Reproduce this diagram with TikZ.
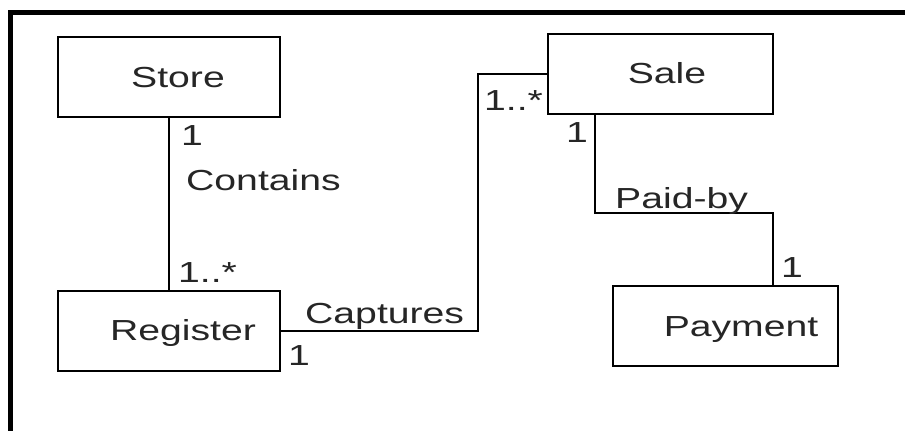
\documentclass[tikz,border=0pt]{standalone}
\usepackage{fontspec}
\setmainfont{Liberation Sans}[FakeStretch=1.35]
\begin{document}
\begin{tikzpicture}[x=1pt,y=-1pt,font=\fontsize{29}{34}\selectfont,text=black!85,
  cls/.style={draw,line width=2pt,minimum width=222pt,minimum height=80pt,inner sep=0pt},
  clsname/.style={anchor=base,inner sep=0pt},
  mult/.style={anchor=base west,inner sep=0pt},
  assoc/.style={line width=2pt}]
\useasboundingbox[fill=white] (0,0) rectangle (905,431);
% frame
\draw[line width=5pt] (10.5,431) -- (10.5,12.5) -- (905,12.5);
% classes
\node[cls] (Store) at (169,76.5) {};
\node[cls] (Register) at (169,331) {};
\node[cls,minimum width=225pt] (Sale) at (660.5,74) {};
\node[cls,minimum width=225pt] (Payment) at (725.5,325.5) {};
\node[clsname] (storeName) at (178,87) {Store};
\node[clsname] (regName) at (183,340) {Register};
\node[clsname] (saleName) at (667,83) {Sale};
\node[clsname] (payName) at (741,336) {Payment};
% associations
\draw[assoc] (Store.south) -- (Register.north);
\coordinate (capBend) at (478,331);
\draw[assoc] (Register.east) -- (capBend) |- (Sale.west);
\coordinate (saleOut) at ([xshift=48pt]Sale.south west);
\coordinate (payIn) at ([xshift=161pt]Payment.north west);
\coordinate (paidBend) at (685,213);
\draw[assoc] (saleOut) |- (paidBend) -| (payIn);
% labels
\node[mult] (storeOne) at (181,145) {1};
\node[mult] (contains) at (186,190) {Contains};
\node[mult] (regMany) at (178,282) {1..*};
\node[mult] (captures) at (305,323) {Captures};
\node[mult] (regOne) at (288,365) {1};
\node[mult] (saleMany) at (484,110) {1..*};
\node[mult] (saleOne) at (566,142) {1};
\node[mult] (paidBy) at (615,208) {Paid-by};
\node[mult] (payOne) at (781,277) {1};
\end{tikzpicture}
\end{document}
